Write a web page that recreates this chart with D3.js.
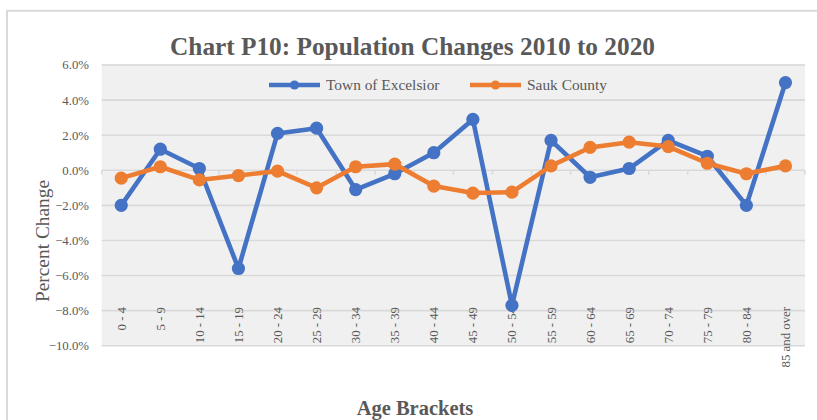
<!DOCTYPE html>
<html>
<head>
<meta charset="utf-8">
<script src="https://cdn.jsdelivr.net/npm/d3@7"></script>
<style>
  html, body { margin: 0; padding: 0; background: #ffffff; }
  svg { display: block; }
  text { font-family: "Liberation Serif", "Times New Roman", serif; }
</style>
</head>
<body>
<svg id="chart" width="817" height="420"></svg>
<script>
const categories = ["0 - 4","5 - 9","10 - 14","15 - 19","20 - 24","25 - 29","30 - 34","35 - 39","40 - 44","45 - 49","50 - 54","55 - 59","60 - 64","65 - 69","70 - 74","75 - 79","80 - 84","85 and over"];
const excelsior = [-2.0, 1.2, 0.1, -5.6, 2.1, 2.4, -1.1, -0.2, 1.0, 2.9, -7.7, 1.7, -0.4, 0.1, 1.7, 0.8, -2.0, 5.0];
const sauk = [-0.45, 0.2, -0.55, -0.3, -0.05, -1.0, 0.2, 0.35, -0.9, -1.3, -1.25, 0.25, 1.3, 1.6, 1.35, 0.4, -0.2, 0.25];
const yTicks = [-10, -8, -6, -4, -2, 0, 2, 4, 6];
const seriesNames = ["Town of Excelsior", "Sauk County"];
const seriesColors = ["#4472C4", "#ED7D31"];
const chartTitle = "Chart P10: Population Changes 2010 to 2020";
const xTitle = "Age Brackets";
const yTitle = "Percent Change";

const svg = d3.select("#chart");
const textColor = "#595959";
const gridColor = "#d9d9d9";

const plot = { left: 101.7, right: 805, top: 65, bottom: 345.7 };

// outer chart frame (partially visible)
svg.append("line").attr("x1", 6).attr("x2", 817).attr("y1", 10.7).attr("y2", 10.7)
  .attr("stroke", gridColor).attr("stroke-width", 2);
svg.append("line").attr("x1", 7).attr("x2", 7).attr("y1", 10).attr("y2", 420)
  .attr("stroke", gridColor).attr("stroke-width", 2);

const x = d3.scaleBand().domain(categories).range([plot.left, plot.right]).padding(0);
const y = d3.scaleLinear().domain([-10, 6]).range([plot.bottom, plot.top]);
const cx = d => x(d) + x.bandwidth() / 2;

// plot background
svg.append("rect").attr("x", plot.left).attr("y", plot.top - 1)
  .attr("width", plot.right - plot.left).attr("height", plot.bottom - plot.top + 1)
  .attr("fill", "#f0f0f0");

// gridlines
svg.append("g").selectAll("line").data(yTicks).join("line")
  .attr("x1", plot.left).attr("x2", plot.right)
  .attr("y1", d => y(d)).attr("y2", d => y(d))
  .attr("stroke", gridColor).attr("stroke-width", 1.6);

// y axis labels
svg.append("g").selectAll("text").data(yTicks).join("text")
  .attr("x", 89).attr("y", d => y(d)).attr("dy", "0.35em")
  .attr("text-anchor", "end").attr("font-size", 12.8).attr("fill", textColor)
  .text(d => d3.format(".1f")(d) + "%");

// category tick marks on zero axis
const bounds = d3.range(categories.length + 1).map(i => plot.left + i * x.bandwidth());
svg.append("g").selectAll("line").data(bounds).join("line")
  .attr("x1", d => d).attr("x2", d => d)
  .attr("y1", y(0)).attr("y2", y(0) + 4.5)
  .attr("stroke", gridColor).attr("stroke-width", 1.4);

// x labels (rotated)
svg.append("g").selectAll("text").data(categories).join("text")
  .attr("transform", d => `translate(${cx(d)},307) rotate(-90)`)
  .attr("text-anchor", "end").attr("dy", "0.35em")
  .attr("font-size", 12.8).attr("fill", textColor)
  .text(d => d);

// series
const line = d3.line().x((d, i) => cx(categories[i])).y(d => y(d));
[excelsior, sauk].forEach((vals, si) => {
  const g = svg.append("g");
  g.append("path").datum(vals).attr("d", line)
    .attr("fill", "none").attr("stroke", seriesColors[si])
    .attr("stroke-width", 4.6).attr("stroke-linejoin", "round");
  g.selectAll("circle").data(vals).join("circle")
    .attr("cx", (d, i) => cx(categories[i])).attr("cy", d => y(d))
    .attr("r", 6.6).attr("fill", seriesColors[si]);
});

// legend
const legendItems = [
  { x1: 269, x2: 320, tx: 326 },
  { x1: 470, x2: 521, tx: 527 }
];
legendItems.forEach((it, i) => {
  const g = svg.append("g");
  g.append("line").attr("x1", it.x1).attr("x2", it.x2).attr("y1", 85).attr("y2", 85)
    .attr("stroke", seriesColors[i]).attr("stroke-width", 4.6);
  g.append("circle").attr("cx", (it.x1 + it.x2) / 2).attr("cy", 85).attr("r", 4.6)
    .attr("fill", seriesColors[i]);
  g.append("text").attr("x", it.tx).attr("y", 85).attr("dy", "0.35em")
    .attr("font-size", 15.4).attr("fill", textColor).text(seriesNames[i]);
});

// titles
svg.append("text").attr("x", 412.5).attr("y", 55).attr("text-anchor", "middle")
  .attr("font-size", 25.3).attr("font-weight", "bold").attr("fill", textColor)
  .text(chartTitle);
svg.append("text").attr("x", 415).attr("y", 415).attr("text-anchor", "middle")
  .attr("font-size", 20.5).attr("font-weight", "bold").attr("fill", textColor)
  .text(xTitle);
svg.append("text").attr("transform", "translate(49,241) rotate(-90)")
  .attr("text-anchor", "middle").attr("font-size", 19.4).attr("fill", textColor)
  .text(yTitle);
</script>
</body>
</html>
